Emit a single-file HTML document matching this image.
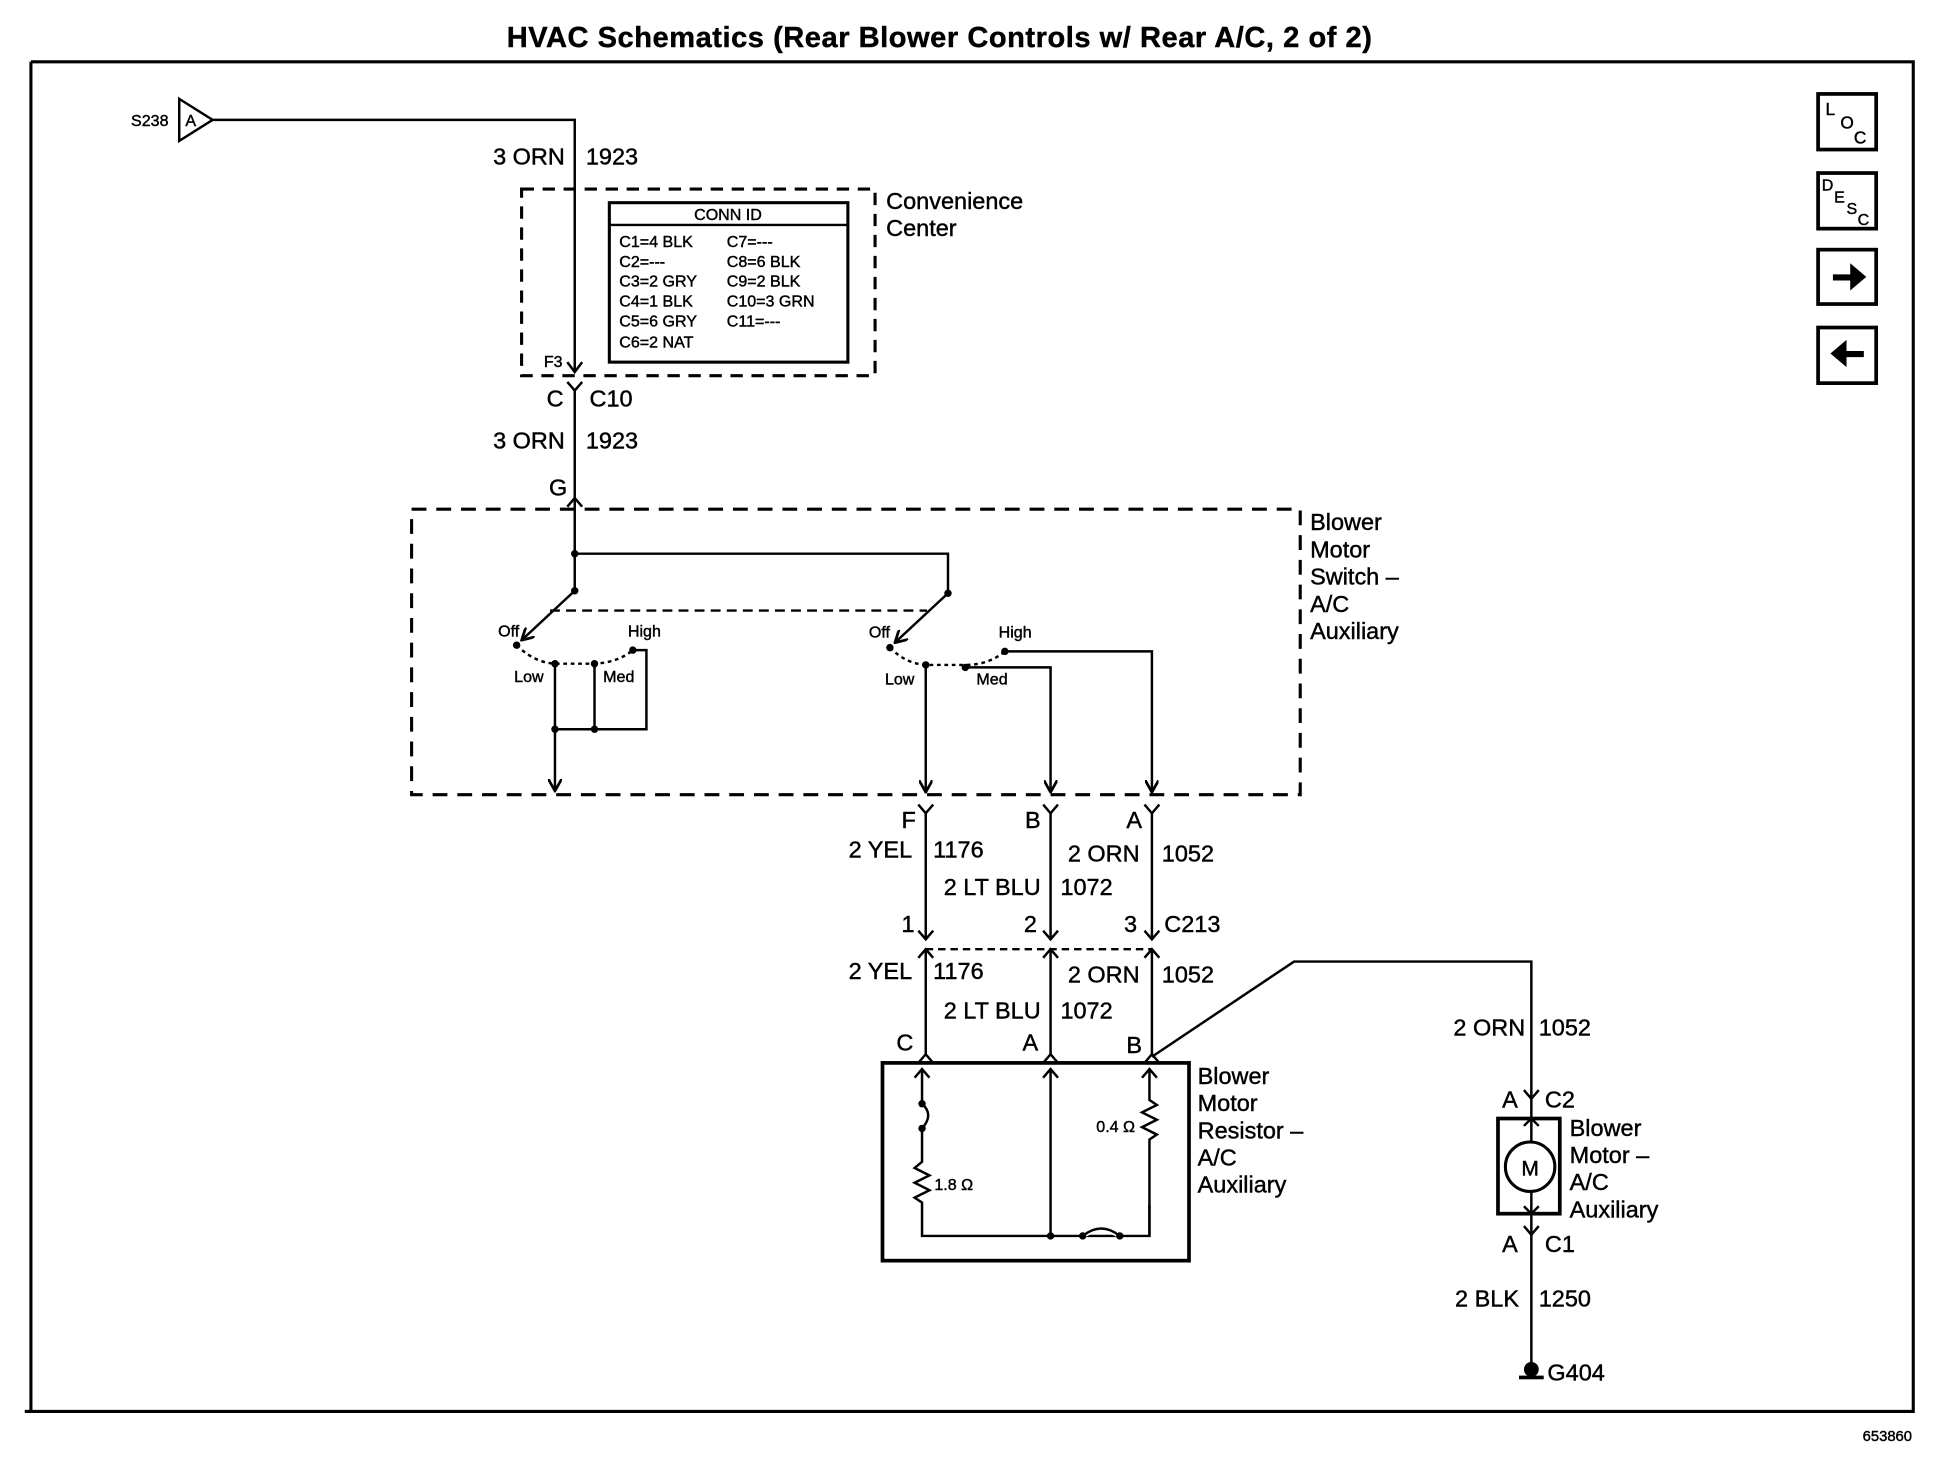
<!DOCTYPE html>
<html><head><meta charset="utf-8"><style>
html,body{margin:0;padding:0;background:#fff;}
svg{display:block;}
text{font-family:"Liberation Sans",sans-serif;fill:#000;stroke:#000;stroke-width:0.35;}
</style></head><body>
<svg width="1938" height="1472" viewBox="0 0 1568 1191" xmlns="http://www.w3.org/2000/svg">
<defs>
<marker id="ar" viewBox="0 0 10 10" refX="9" refY="5" markerWidth="5.5" markerHeight="5.5" orient="auto-start-reverse">
<path d="M0,0 L9,5 L0,10" fill="none" stroke="#000" stroke-width="2"/></marker>
</defs>
<g stroke="#000" fill="none" stroke-width="2">
<path d="M25,50 H1548 V1142 H20 M25,50 V1142" stroke-width="2.5"/>
<path d="M145,80 L172,97 L145,114 Z"/>
<path d="M172,97 H465 V300"/>
<path d="M459,293 L465,301 L471,293"/>
<rect x="422" y="153" width="286" height="151" stroke-dasharray="10,7" stroke-width="2.5"/>
<rect x="493" y="164" width="193" height="129" stroke-width="2.5"/>
<path d="M493,182 H686"/>
<path d="M459,309 L465,316 L471,309 M465,316 V403"/>
<path d="M459,410 L465,403 L471,410 M465,403 V478"/>
<rect x="333" y="412" width="719" height="231" stroke-dasharray="12,8" stroke-width="2.5"/>
<path d="M465,448 H767 V480"/>
<path d="M465,478 L422,518" marker-end="url(#ar)"/>
<path d="M767,480 L724,520" marker-end="url(#ar)"/>
<path d="M445,494 H750" stroke-dasharray="8,5"/>
<path d="M418,522 Q432,536 449,537 H481 Q500,536 512,526" stroke-dasharray="3,3"/>
<path d="M720,524 Q733,537 749,538 H781 Q800,538 813,527" stroke-dasharray="3,3"/>
<path d="M449,537 V640" marker-end="url(#ar)"/>
<path d="M481,537 V590 M512,526 H523 V590 H449"/>
<path d="M749,538 V641" marker-end="url(#ar)"/>
<path d="M781,540 H850 V641" marker-end="url(#ar)"/>
<path d="M813,527 H932 V641" marker-end="url(#ar)"/>
<path d="M743,651 L749,658 L755,651 M844,651 L850,658 L856,651 M926,651 L932,658 L938,651"/>
<path d="M749,658 V760 M850,658 V760 M932,658 V760"/>
<path d="M743,753 L749,760 L755,753 M844,753 L850,760 L856,753 M926,753 L932,760 L938,753"/>
<path d="M743,775 L749,768 L755,775 M844,775 L850,768 L856,775 M926,775 L932,768 L938,775"/>
<path d="M749,768 V853 M850,768 V853 M932,768 V853"/>
<path d="M749,768 H932" stroke-dasharray="6,4"/>
<path d="M743,860 L749,853 L755,860 M844,860 L850,853 L856,860 M926,860 L932,853 L938,860"/>
<path d="M932,855 L1047,778 H1239 V888"/>
<rect x="714" y="860" width="248" height="160" stroke-width="3"/>
<path d="M740,872 L746,865 L752,872 M746,865 V893 Q756,902 746,913 V940 l-6,5 l12,6 l-12,6 l12,6 l-12,6 l6,4 V1000 H930 V975"/>
<path d="M844,872 L850,865 L856,872 M850,865 V1000"/>
<path d="M924,872 L930,865 L936,872 M930,865 V890 l6,4 l-12,6 l12,6 l-12,6 l12,6 l-6,4 V1000"/>
<path d="M876,1000 Q891,990 906,1000" stroke="#fff" stroke-width="4"/>
<path d="M876,1000 Q891,988 906,1000"/>
<path d="M1233,882 L1239,889 L1245,882"/>
<rect x="1212" y="905" width="50" height="77" stroke-width="3"/>
<path d="M1239,889 V1000"/>
<path d="M1233,911 L1239,905 L1245,911 M1233,976 L1239,982 L1245,976"/>
<circle cx="1238" cy="944" r="20" fill="#fff" stroke-width="2.5"/>
<path d="M1233,992 L1239,999 L1245,992 M1239,999 V1102"/>
<rect x="1471" y="76" width="47" height="45" stroke-width="3"/>
<rect x="1471" y="140" width="47" height="45" stroke-width="3"/>
<rect x="1471" y="202" width="47" height="44" stroke-width="3"/>
<rect x="1471" y="265" width="47" height="45" stroke-width="3"/>
</g>
<g fill="#000">
<circle cx="465" cy="448" r="3"/><circle cx="465" cy="478" r="3"/><circle cx="767" cy="480" r="3"/>
<circle cx="418" cy="522" r="3"/><circle cx="449" cy="537" r="3"/><circle cx="481" cy="537" r="3"/><circle cx="512" cy="526" r="3"/>
<circle cx="449" cy="590" r="3"/><circle cx="481" cy="590" r="3"/>
<circle cx="720" cy="524" r="3"/><circle cx="749" cy="538" r="3"/><circle cx="781" cy="540" r="3"/><circle cx="813" cy="527" r="3"/>
<circle cx="746" cy="893" r="3"/><circle cx="746" cy="913" r="3"/><circle cx="850" cy="1000" r="3"/><circle cx="876" cy="1000" r="3"/><circle cx="906" cy="1000" r="3"/>
<circle cx="1239" cy="1108" r="6"/>
<rect x="1229" y="1113" width="20" height="3"/>
<path d="M1483,222 H1497 V213 L1510,224 L1497,235 V227 H1483 Z"/>
<path d="M1508,284 H1494 V275 L1481,286 L1494,297 V289 H1508 Z"/>
</g>
<text x="760" y="38" font-size="23.5" font-weight="bold" text-anchor="middle" textLength="700">HVAC Schematics (Rear Blower Controls w/ Rear A/C, 2 of 2)</text>
<g font-size="19">
<text x="457" y="133" text-anchor="end">3 ORN</text><text x="474" y="133">1923</text>
<text x="717" y="169">Convenience</text><text x="717" y="191">Center</text>
<text x="456" y="329" text-anchor="end">C</text><text x="477" y="329">C10</text>
<text x="457" y="363" text-anchor="end">3 ORN</text><text x="474" y="363">1923</text>
<text x="459" y="401" text-anchor="end">G</text>
<text x="1060" y="429">Blower</text><text x="1060" y="451">Motor</text><text x="1060" y="473">Switch –</text><text x="1060" y="495">A/C</text><text x="1060" y="517">Auxiliary</text>
<text x="741" y="670" text-anchor="end">F</text><text x="842" y="670" text-anchor="end">B</text><text x="924" y="670" text-anchor="end">A</text>
<text x="738" y="694" text-anchor="end">2 YEL</text><text x="755" y="694">1176</text>
<text x="842" y="724" text-anchor="end">2 LT BLU</text><text x="858" y="724">1072</text>
<text x="922" y="697" text-anchor="end">2 ORN</text><text x="940" y="697">1052</text>
<text x="740" y="754" text-anchor="end">1</text><text x="839" y="754" text-anchor="end">2</text><text x="920" y="754" text-anchor="end">3</text><text x="942" y="754">C213</text>
<text x="738" y="792" text-anchor="end">2 YEL</text><text x="755" y="792">1176</text>
<text x="842" y="824" text-anchor="end">2 LT BLU</text><text x="858" y="824">1072</text>
<text x="922" y="795" text-anchor="end">2 ORN</text><text x="940" y="795">1052</text>
<text x="739" y="850" text-anchor="end">C</text><text x="840" y="850" text-anchor="end">A</text><text x="924" y="852" text-anchor="end">B</text>
<text x="969" y="877">Blower</text><text x="969" y="899">Motor</text><text x="969" y="921">Resistor –</text><text x="969" y="943">A/C</text><text x="969" y="965">Auxiliary</text>
<text x="1234" y="838" text-anchor="end">2 ORN</text><text x="1245" y="838">1052</text>
<text x="1228" y="896" text-anchor="end">A</text><text x="1250" y="896">C2</text>
<text x="1270" y="919">Blower</text><text x="1270" y="941">Motor –</text><text x="1270" y="963">A/C</text><text x="1270" y="985">Auxiliary</text>
<text x="1228" y="1013" text-anchor="end">A</text><text x="1250" y="1013">C1</text>
<text x="1229" y="1057" text-anchor="end">2 BLK</text><text x="1245" y="1057">1250</text>
<text x="1252" y="1117">G404</text>
<text x="1238" y="951" text-anchor="middle" font-size="17">M</text>
</g>
<g font-size="13">
<text x="106" y="102">S238</text><text x="150" y="102">A</text>
<text x="440" y="297">F3</text>
<text x="589" y="178" text-anchor="middle">CONN ID</text>
<text x="501" y="200">C1=4 BLK</text><text x="588" y="200">C7=---</text>
<text x="501" y="216">C2=---</text><text x="588" y="216">C8=6 BLK</text>
<text x="501" y="232">C3=2 GRY</text><text x="588" y="232">C9=2 BLK</text>
<text x="501" y="248">C4=1 BLK</text><text x="588" y="248">C10=3 GRN</text>
<text x="501" y="264">C5=6 GRY</text><text x="588" y="264">C11=---</text>
<text x="501" y="281">C6=2 NAT</text>
<text x="403" y="515">Off</text><text x="508" y="515">High</text><text x="416" y="552">Low</text><text x="488" y="552">Med</text>
<text x="703" y="516">Off</text><text x="808" y="516">High</text><text x="716" y="554">Low</text><text x="790" y="554">Med</text>
<text x="756" y="963">1.8 Ω</text><text x="887" y="916">0.4 Ω</text>
<text x="1507" y="1166" font-size="12">653860</text>
<text x="1477" y="93" font-size="14">L</text><text x="1489" y="104" font-size="14">O</text><text x="1500" y="116" font-size="14">C</text>
<text x="1474" y="154" font-size="13">D</text><text x="1484" y="164" font-size="13">E</text><text x="1494" y="173" font-size="13">S</text><text x="1503" y="182" font-size="13">C</text>
</g>
</svg>
</body></html>
